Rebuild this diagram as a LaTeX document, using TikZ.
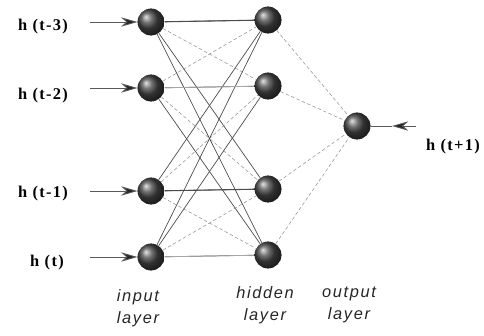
\documentclass[tikz,border=0pt]{standalone}
\usepackage{fontspec}
\setmainfont{Liberation Serif}
\setsansfont{Liberation Sans}
\usetikzlibrary{arrows.meta}
\begin{document}
\begin{tikzpicture}[x=0.03cm, y=-0.03cm,
    neuron/.style={circle, inner sep=0pt, minimum size=0.8cm, ball color=gray!55!black, draw=none},
    inlabel/.style={font=\bfseries\fontsize{14}{16}\selectfont\addfontfeature{LetterSpace=8}, anchor=center},
    laylabel/.style={font=\sffamily\itshape\fontsize{14}{19}\selectfont\addfontfeature{LetterSpace=10}, align=center, text=black!85},
    feed/.style={draw=gray!70!black, line width=0.7pt, -{Stealth[length=14pt,width=8pt,fill=black!85]}},
    wire/.style={draw=black!70, line width=0.6pt},
    wirelight/.style={draw=gray!70, line width=0.7pt},
    wiredash/.style={draw=gray!80, line width=0.5pt, dashed, dash pattern=on 3pt off 2pt}]
    \useasboundingbox (0,0) rectangle (484,335);

    % 输入层
    \node[neuron] (i1) at (151,22) {};
    \node[neuron] (i2) at (151,88) {};
    \node[neuron] (i3) at (151,191) {};
    \node[neuron] (i4) at (151,257) {};

    % 隐含层
    \node[neuron] (h1) at (268,20) {};
    \node[neuron] (h2) at (268,86) {};
    \node[neuron] (h3) at (268,189) {};
    \node[neuron] (h4) at (268,255) {};

    % 输出层
    \node[neuron] (o) at (357,126) {};

    % 输入标签
    \node[inlabel] (l1) at (43,27) {h (t-3)};
    \node[inlabel] (l2) at (43,96) {h (t-2)};
    \node[inlabel] (l3) at (43,194) {h (t-1)};
    \node[inlabel] (l4) at (47,263) {h (t)};
    \node[inlabel] (lo) at (453,147) {h (t+1)};

    % 输入箭头
    \foreach \k/\yy in {1/22, 2/88, 3/191, 4/257} {
        \coordinate (a\k) at (90,\yy);
        \draw[feed] (a\k) -- (i\k.west);
    }
    \coordinate (oa) at (416,126);
    \coordinate (ob) at (392,126);
    \draw[feed] (oa) -- (ob);
    \draw[draw=gray!70!black, line width=0.7pt] (ob) -- (o.east);

    % 输入层 -> 隐含层: 相邻为虚线, 其余实线
    \foreach \a in {1,...,4} {
        \foreach \b in {1,...,4} {
            \pgfmathtruncatemacro{\gap}{abs(\a-\b)}
            \ifnum\gap=1
                \draw[wiredash] (i\a) -- (h\b);
            \else
                \draw[wire] (i\a) -- (h\b);
            \fi
        }
    }
    % 同层水平线 (2, 4 较浅)
    \draw[wirelight] (i2) -- (h2);
    \draw[wirelight] (i4) -- (h4);
    \draw[wire, line width=0.9pt] (i1) -- (h1);
    \draw[wire, line width=0.9pt] (i3) -- (h3);

    % 隐含层 -> 输出层
    \foreach \b in {1,...,4} {
        \draw[wiredash] (h\b) -- (o);
    }

    % 重画神经元, 盖住连线
    \foreach \n in {i1,i2,i3,i4,h1,h2,h3,h4,o} {
        \node[neuron] at (\n) {};
    }

    % 层名
    \node[laylabel] (t1) at (138,308) {input\\layer};
    \node[laylabel] (t2) at (265,305) {hidden\\layer};
    \node[laylabel] (t3) at (349,305) {output\\layer};
\end{tikzpicture}
\end{document}
